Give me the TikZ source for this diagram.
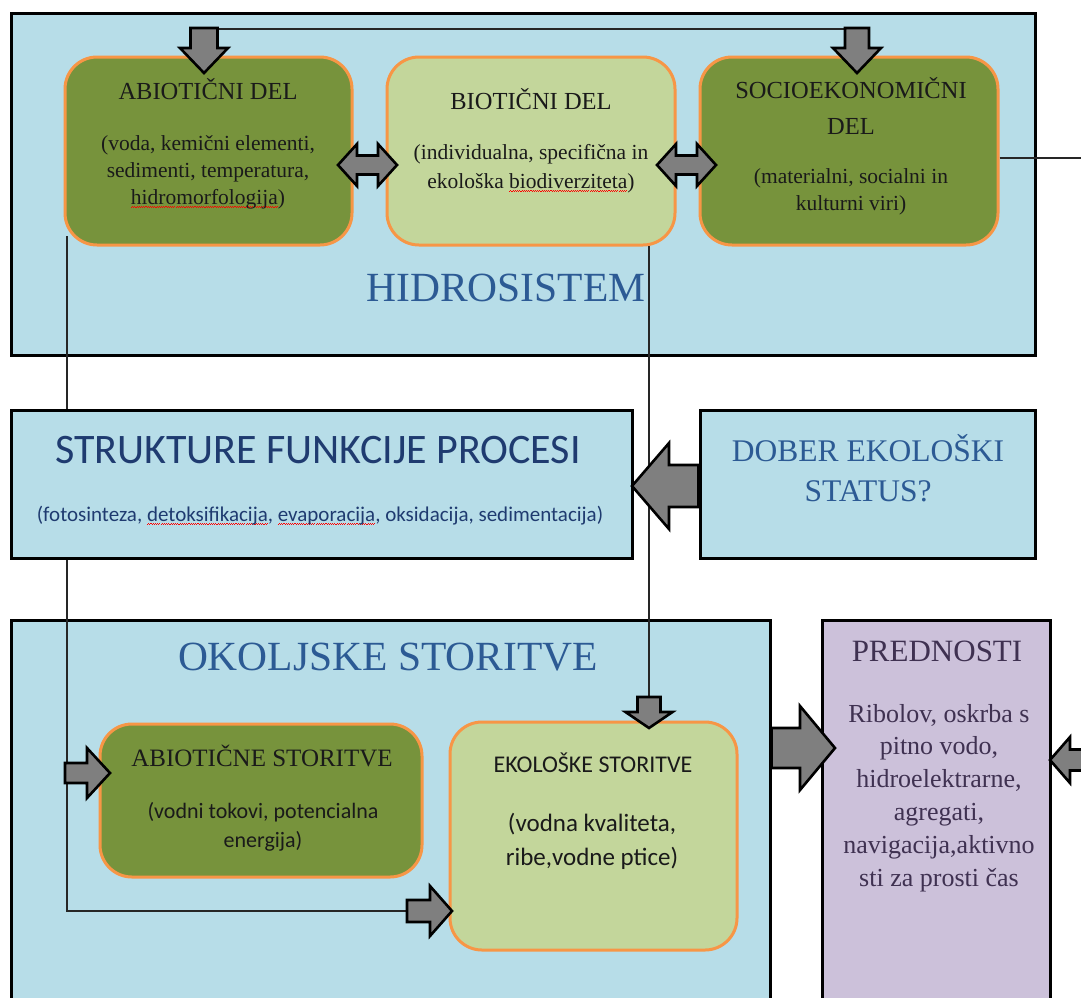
\documentclass[tikz,border=0pt]{standalone}
\usepackage{fontspec}
\setmainfont{Liberation Serif}
\newfontfamily\calfont{Carlito}
\usetikzlibrary{calc}

\definecolor{sysblue}{HTML}{B7DDE8}
\definecolor{olivefill}{HTML}{77933C}
\definecolor{sagefill}{HTML}{C3D69B}
\definecolor{ringorange}{HTML}{F79646}
\definecolor{lavender}{HTML}{CCC1DA}
\definecolor{arrowgray}{HTML}{7F7F7F}
\definecolor{headblue}{HTML}{2C5A94}
\definecolor{navy}{HTML}{1F3B70}
\definecolor{plum}{HTML}{3F3151}
\definecolor{ink}{HTML}{1A1A1A}

% red wavy spell-check underline under a word
\newsavebox\spellbox
\newcommand\spellmark[1]{%
  \sbox\spellbox{#1}%
  \rlap{\raisebox{-4pt}{\textcolor{red}{\hbox to \wd\spellbox{\xleaders\hbox{\rule{1.1pt}{0.9pt}\rule[0.9pt]{1.1pt}{0.9pt}}\hfill}}}}%
  \usebox\spellbox}

% block arrow: tail, tip, half shaft width, half head width, head length
\newcommand\singlearrow[5]{%
  \path (#1) coordinate (sa-t) (#2) coordinate (sa-p);
  \path ($(sa-p)!#5!(sa-t)$) coordinate (sa-h);
  \draw[blockarrow] ($(sa-t)!#3!90:(sa-p)$) -- ($(sa-h)!#3!90:(sa-p)$)
    -- ($(sa-h)!#4!90:(sa-p)$) -- (sa-p) -- ($(sa-h)!#4!-90:(sa-p)$)
    -- ($(sa-h)!#3!-90:(sa-p)$) -- ($(sa-t)!#3!-90:(sa-p)$) -- cycle;}
% double block arrow: end, end, half shaft width, half head width, head length
\newcommand\doublearrow[5]{%
  \path (#1) coordinate (da-a) (#2) coordinate (da-b);
  \path ($(da-a)!#5!(da-b)$) coordinate (da-ha) ($(da-b)!#5!(da-a)$) coordinate (da-hb);
  \draw[blockarrow] (da-a) -- ($(da-ha)!#4!90:(da-b)$) -- ($(da-ha)!#3!90:(da-b)$)
    -- ($(da-hb)!#3!90:(da-b)$) -- ($(da-hb)!#4!90:(da-b)$) -- (da-b)
    -- ($(da-hb)!#4!-90:(da-b)$) -- ($(da-hb)!#3!-90:(da-b)$)
    -- ($(da-ha)!#3!-90:(da-b)$) -- ($(da-ha)!#4!-90:(da-b)$) -- cycle;}

\tikzset{
  sysbox/.style={draw=black, line width=3pt, fill=sysblue, rectangle, inner sep=0pt},
  partbox/.style={draw=ringorange, line width=3pt, rounded corners=32pt, rectangle, inner sep=0pt},
  link/.style={draw=black!85, line width=1.4pt},
  blockarrow/.style={draw=black, fill=arrowgray, line width=2.6pt, line join=miter},
  txt/.style={inner sep=0pt, anchor=base},
  bigtitle/.style={txt, text=headblue, font=\fontsize{41.5}{41.5}\selectfont},
  parttitle/.style={txt, text=ink, font=\fontsize{24.5}{24.5}\selectfont},
  partnote/.style={txt, text=ink, font=\fontsize{21.5}{21.5}\selectfont},
  calnote/.style={txt, text=ink, font=\calfont\fontsize{22}{22}\selectfont},
  benefit/.style={txt, text=plum, font=\fontsize{26}{26}\selectfont},
}

\begin{document}
\begin{tikzpicture}[x=1pt,y=-1pt]
\useasboundingbox (0,0) rectangle (1081,997);

% containers
\node[sysbox, minimum width=1024pt, minimum height=342pt] (hidro) at (523,184) {};
\node[sysbox, minimum width=621pt, minimum height=148pt] (sfp) at (321.5,484) {};
\node[sysbox, minimum width=335pt, minimum height=148pt] (dober) at (867.5,484) {};
\node[sysbox, minimum width=759pt, minimum height=390pt] (okolj) at (390.5,815) {};
\node[sysbox, fill=lavender, minimum width=228pt, minimum height=390pt] (pred) at (936,815) {};

% parts of the hydrosystem and the services
\node[partbox, fill=olivefill, minimum width=287pt, minimum height=188pt] (abio) at (208.5,151) {};
\node[partbox, fill=sagefill, minimum width=288pt, minimum height=188pt] (bio) at (531,151) {};
\node[partbox, fill=olivefill, minimum width=298pt, minimum height=188pt] (socio) at (849,151) {};
\node[partbox, fill=olivefill, minimum width=322pt, minimum height=153pt] (abs) at (261,800.5) {};
\node[partbox, fill=sagefill, minimum width=287pt, minimum height=228pt] (eko) at (593.5,836) {};

% connector end points
\coordinate (topL) at (204,29);
\coordinate (topR) at (857,29);
\coordinate (abfoot) at (67,236);
\coordinate (biofoot) at (649,246);
\coordinate (absTail) at (65,773);
\coordinate (absTip) at (110,773);
\coordinate (ekoTail) at (407,911);
\coordinate (ekoTip) at (452,911);
\coordinate (ekoTopTail) at (649,697);
\coordinate (ekoTopTip) at (649,728);
\coordinate (rightEnd) at (1081,158);
\coordinate (edgeTail) at (1086,760);
\coordinate (edgeTip) at (1050,760);

% thin connectors
\draw[link] (topL) -- (topR);
\draw[link] (abfoot) -- (abfoot |- sfp.north);
\draw[link] (abfoot |- sfp.south) -- (abfoot |- ekoTail) -- (ekoTail);
\draw[link] (biofoot) -- (ekoTopTail);
\draw[link] (socio.east |- rightEnd) -- (rightEnd);

% block arrows
\singlearrow{topL |- 0,28}{204,73}{13.5pt}{24pt}{25pt}
\singlearrow{topR |- 0,28}{857,73}{12pt}{24pt}{25pt}
\doublearrow{338,165}{397,165}{9.5pt}{21pt}{19pt}
\doublearrow{657,165}{716,165}{9.5pt}{21pt}{19pt}
\singlearrow{dober.west |- 0,486}{632,486}{21pt}{43pt}{37pt}
\singlearrow{okolj.east |- 0,748}{835,748}{20pt}{42pt}{35pt}
\singlearrow{edgeTail}{edgeTip}{10.5pt}{23pt}{20pt}
\singlearrow{ekoTopTail}{ekoTopTip}{11.5pt}{23.5pt}{16pt}
\singlearrow{absTail}{absTip}{10pt}{25pt}{23pt}
\singlearrow{ekoTail}{ekoTip}{11pt}{25pt}{22pt}

% hydrosystem texts
\node[bigtitle] (hidroT) at (506,301) {HIDROSISTEM};
\node[parttitle] (abioT) at (208,99) {ABIOTIČNI DEL};
\node[partnote] (abioA) at (208,150) {(voda, kemični elementi,};
\node[partnote] (abioB) at (208,177) {sedimenti, temperatura,};
\node[partnote] (abioC) at (208,204) {\spellmark{hidromorfologija})};
\node[parttitle] (bioT) at (531,109) {BIOTIČNI DEL};
\node[partnote] (bioA) at (531,159) {(individualna, specifična in};
\node[partnote] (bioB) at (531,188) {ekološka \spellmark{biodiverziteta})};
\node[parttitle] (socioT) at (851,98) {SOCIOEKONOMIČNI};
\node[parttitle] (socioU) at (851,134) {DEL};
\node[partnote] (socioA) at (851,183) {(materialni, socialni in};
\node[partnote] (socioB) at (851,210) {kulturni viri)};

% structures and status
\node[txt, text=navy, font=\calfont\fontsize{42}{42}\selectfont] (sfpT) at (318,463) {STRUKTURE FUNKCIJE PROCESI};
\node[txt, text=navy, font=\calfont\fontsize{21}{21}\selectfont] (sfpA) at (320,521)
  {(fotosinteza, \spellmark{detoksifikacija}, \spellmark{evaporacija}, oksidacija, sedimentacija)};
\node[txt, text=headblue, font=\fontsize{31.5}{31.5}\selectfont] (doberT) at (868,461) {DOBER EKOLOŠKI};
\node[txt, text=headblue, font=\fontsize{31.5}{31.5}\selectfont] (doberU) at (868,501) {STATUS?};

% environmental services
\node[bigtitle] (okoljT) at (388,670) {OKOLJSKE STORITVE};
\node[parttitle, font=\fontsize{25}{25}\selectfont] (absT) at (262,766) {ABIOTIČNE STORITVE};
\node[calnote] (absA) at (263,818) {(vodni tokovi, potencialna};
\node[calnote] (absB) at (263,847) {energija)};
\node[txt, text=ink, font=\calfont\fontsize{24}{24}\selectfont] (ekoT) at (593,772) {EKOLOŠKE STORITVE};
\node[txt, text=ink, font=\calfont\fontsize{25}{25}\selectfont] (ekoA) at (592,831) {(vodna kvaliteta,};
\node[txt, text=ink, font=\calfont\fontsize{25}{25}\selectfont] (ekoB) at (592,865) {ribe,vodne ptice)};

% benefits
\node[txt, text=plum, font=\fontsize{31}{31}\selectfont] (predT) at (937,661) {PREDNOSTI};
\node[benefit] (predA) at (939,722) {Ribolov, oskrba s};
\node[benefit] (predB) at (939,754) {pitno vodo,};
\node[benefit] (predC) at (939,787) {hidroelektrarne,};
\node[benefit] (predD) at (939,820) {agregati,};
\node[benefit] (predE) at (939,853) {navigacija,aktivno};
\node[benefit] (predF) at (939,886) {sti za prosti čas};
\end{tikzpicture}
\end{document}
